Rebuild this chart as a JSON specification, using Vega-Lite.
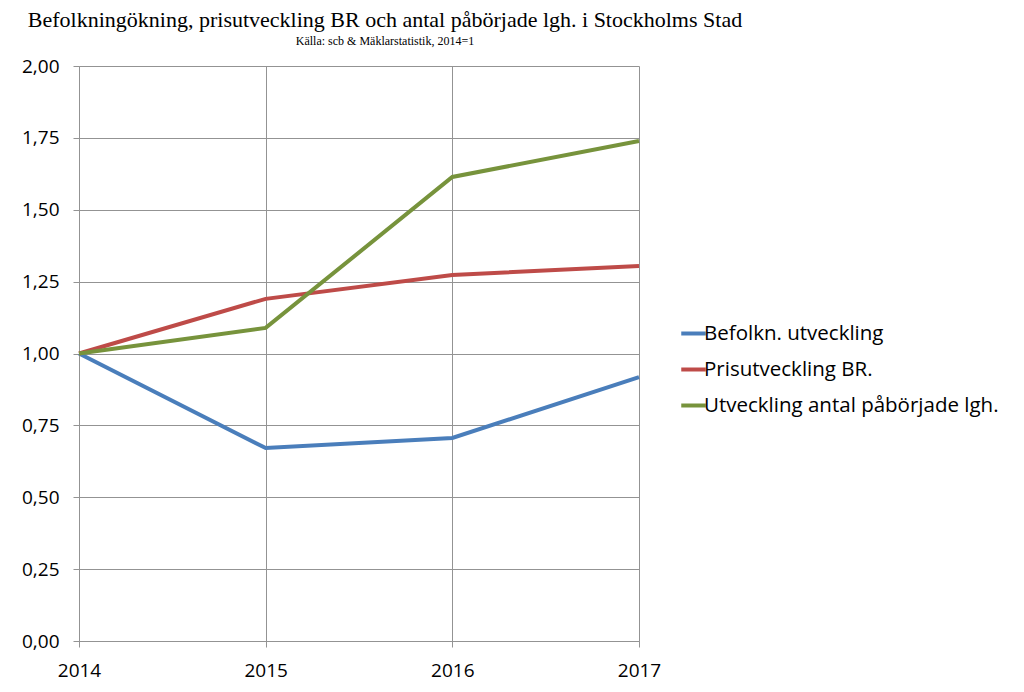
{
  "$schema": "https://vega.github.io/schema/vega-lite/v6.json",
  "autosize": "none",
  "width": 560,
  "height": 575,
  "padding": {"left": 79, "top": 66, "right": 385, "bottom": 51},
  "background": "white",
  "title": {
    "text": "Befolkningökning, prisutveckling BR och antal påbörjade lgh. i Stockholms Stad",
    "subtitle": "Källa: scb & Mäklarstatistik, 2014=1",
    "anchor": "middle",
    "dx": 26,
    "offset": 9,
    "font": "Liberation Serif",
    "fontSize": 22,
    "fontWeight": "normal",
    "color": "#000000",
    "subtitleFont": "Liberation Serif",
    "subtitleFontSize": 12,
    "subtitleColor": "#000000",
    "subtitlePadding": 4
  },
  "data": {
    "values": [
      {"year": 2014, "series": "Befolkn. utveckling", "value": 1.0},
      {"year": 2015, "series": "Befolkn. utveckling", "value": 0.671},
      {"year": 2016, "series": "Befolkn. utveckling", "value": 0.706},
      {"year": 2017, "series": "Befolkn. utveckling", "value": 0.918},
      {"year": 2014, "series": "Prisutveckling BR.", "value": 1.0},
      {"year": 2015, "series": "Prisutveckling BR.", "value": 1.19},
      {"year": 2016, "series": "Prisutveckling BR.", "value": 1.273},
      {"year": 2017, "series": "Prisutveckling BR.", "value": 1.304},
      {"year": 2014, "series": "Utveckling antal påbörjade lgh.", "value": 1.0},
      {"year": 2015, "series": "Utveckling antal påbörjade lgh.", "value": 1.089},
      {"year": 2016, "series": "Utveckling antal påbörjade lgh.", "value": 1.614},
      {"year": 2017, "series": "Utveckling antal påbörjade lgh.", "value": 1.739}
    ]
  },
  "mark": {"type": "line", "strokeWidth": 4, "strokeCap": "butt"},
  "encoding": {
    "x": {
      "field": "year",
      "type": "quantitative",
      "scale": {"domain": [2014, 2017], "nice": false, "zero": false},
      "axis": {
        "title": null,
        "values": [2014, 2015, 2016, 2017],
        "format": "d",
        "grid": true,
        "gridColor": "#939393",
        "gridWidth": 1,
        "domainColor": "#939393",
        "tickColor": "#939393",
        "tickSize": 6,
        "labelFont": "Open Sans",
        "labelFontSize": 19,
        "labelColor": "#000000",
        "labelPadding": 14,
        "labelFlush": false
      }
    },
    "y": {
      "field": "value",
      "type": "quantitative",
      "scale": {"domain": [0, 2], "nice": false},
      "axis": {
        "title": null,
        "values": [0, 0.25, 0.5, 0.75, 1, 1.25, 1.5, 1.75, 2],
        "labelExpr": "replace(format(datum.value, '.2f'), '.', ',')",
        "grid": true,
        "gridColor": "#939393",
        "gridWidth": 1,
        "domainColor": "#939393",
        "tickColor": "#939393",
        "tickSize": 6,
        "labelFont": "Open Sans",
        "labelFontSize": 19,
        "labelColor": "#000000",
        "labelPadding": 14
      }
    },
    "color": {
      "field": "series",
      "type": "nominal",
      "scale": {
        "domain": ["Befolkn. utveckling", "Prisutveckling BR.", "Utveckling antal påbörjade lgh."],
        "range": ["#4A7EBB", "#BE4B48", "#77933C"]
      },
      "legend": {
        "title": null,
        "orient": "none",
        "legendX": 600,
        "legendY": 253,
        "symbolType": "stroke",
        "symbolSize": 600,
        "symbolStrokeWidth": 4,
        "labelFont": "Open Sans",
        "labelFontSize": 20.5,
        "labelColor": "#000000",
        "labelOffset": -4,
        "rowPadding": 11,
        "labelLimit": 400
      }
    }
  },
  "config": {"view": {"stroke": null}}
}
